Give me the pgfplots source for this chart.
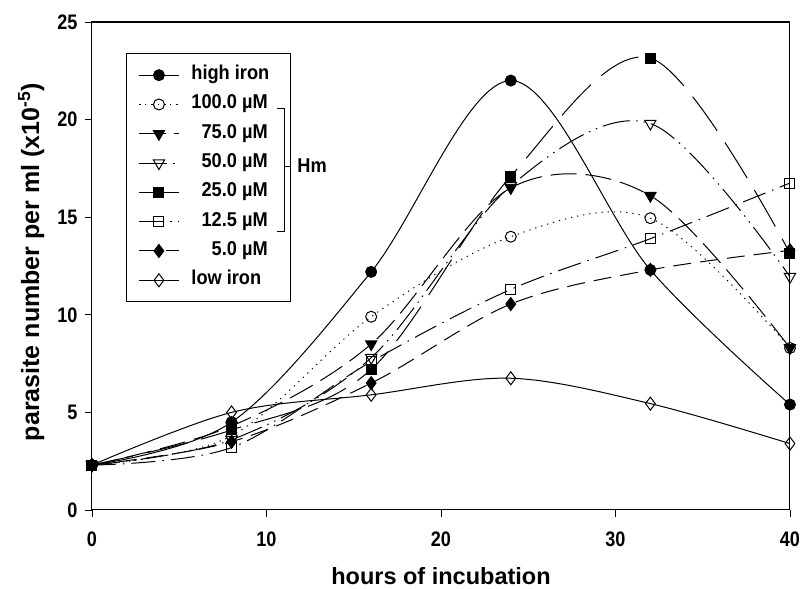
\documentclass[border=0pt]{standalone}
\usepackage{fontspec}
\setmainfont{Liberation Sans}
\newfontfamily\tickfont{Liberation Sans}[FakeStretch=0.86]
\newfontfamily\legfont{Liberation Sans}[FakeStretch=0.91]
\usepackage{pgfplots}
\pgfplotsset{compat=1.18}
\begin{document}
\begin{tikzpicture}
\begin{axis}[
  scale only axis,
  width=698pt, height=488pt,
  xmin=0, xmax=40, ymin=0, ymax=25,
  xtick={0,10,20,30,40}, ytick={0,5,10,15,20,25},
  tick align=outside, major tick length=7pt,
  xtick pos=left, ytick pos=left,
  axis line style={line width=1pt, black},
  tick style={line width=0.9pt, black},
  /pgf/number format/assume math mode=true,
  ticklabel style={font=\tickfont\bfseries\fontsize{21}{21}\selectfont},
  xticklabel style={yshift=-11pt},
  yticklabel style={xshift=-4pt},
  xlabel={hours of incubation},
  ylabel={parasite number per ml (x10\textsuperscript{-5})},
  xlabel style={font=\bfseries\fontsize{23.5}{23.5}\selectfont, at={(0.5,-0.136)}, anchor=center},
  ylabel style={font=\bfseries\fontsize{25}{25}\selectfont, at={(-0.087,0.508)}, anchor=center},
  every axis plot/.append style={line width=1pt, black, smooth, tension=0.55},
  legend cell align=left,
  legend style={at={(0.0487,0.936)}, anchor=north west, draw=black, line width=0.9pt,
    font=\legfont\bfseries\fontsize{20}{20}\selectfont, row sep=10.3pt,
    inner xsep=12pt, inner ysep=12pt,
    nodes={inner xsep=9pt, inner ysep=0pt, text height=14pt, text depth=5pt}},
  legend image code/.code={\draw[mark repeat=2, mark phase=2] plot coordinates {(0pt,0pt) (20pt,0pt) (40pt,0pt)}; \path (43pt,0pt);},
  clip=false,
]
\addplot[solid, mark=*, mark size=5.5pt, mark options={solid, fill=black}]
  coordinates {(0,2.3)(8,4.5)(16,12.2)(24,22.0)(32,12.3)(40,5.4)};
\addlegendentry{high iron\hspace{11pt}}
\addplot[dash pattern=on 1.2pt off 5pt, mark=o, mark size=5.5pt, mark options={solid, fill=white}]
  coordinates {(0,2.3)(8,3.8)(16,9.9)(24,14.0)(32,14.95)(40,8.3)};
\addlegendentry{100.0 µM}
\addplot[dash pattern=on 26pt off 9pt, mark=triangle*, mark size=6.5pt, mark options={solid, fill=black, rotate=180}]
  coordinates {(0,2.3)(8,4.3)(16,8.5)(24,16.5)(32,16.1)(40,8.3)};
\addlegendentry{\phantom{0}75.0 µM}
\addplot[dash pattern=on 28pt off 6pt on 1.5pt off 6pt on 1.5pt off 6pt, mark=triangle, mark size=6.5pt, mark options={solid, fill=white, rotate=180}]
  coordinates {(0,2.3)(8,3.6)(16,7.8)(24,16.6)(32,19.8)(40,11.95)};
\addlegendentry{\phantom{0}50.0 µM}
\addplot[dash pattern=on 42pt off 14pt, mark=square*, mark size=5pt, mark options={solid, fill=black}]
  coordinates {(0,2.3)(8,4.1)(16,7.2)(24,17.1)(32,23.15)(40,13.15)};
\addlegendentry{\phantom{0}25.0 µM}
\addplot[dash pattern=on 24pt off 7pt on 1.5pt off 7pt, mark=square, mark size=5pt, mark options={solid, fill=white}]
  coordinates {(0,2.3)(8,3.2)(16,7.6)(24,11.3)(32,13.9)(40,16.75)};
\addlegendentry{\phantom{0}12.5 µM}
\addplot[dash pattern=on 18pt off 9pt, mark=diamond*, mark size=6.5pt, mark options={solid, fill=black}]
  coordinates {(0,2.3)(8,3.5)(16,6.5)(24,10.55)(32,12.3)(40,13.3)};
\addlegendentry{\phantom{00}5.0 µM}
\addplot[solid, mark=diamond, mark size=6.5pt, mark options={solid, fill=white}]
  coordinates {(0,2.3)(8,5.0)(16,5.9)(24,6.75)(32,5.45)(40,3.4)};
\addlegendentry{low iron}
\coordinate (F1) at (rel axis cs:0,0);
\coordinate (F2) at (rel axis cs:1,1);
\coordinate (B1) at (axis cs:10.6,20.59);
\coordinate (B2) at (axis cs:11.0,20.59);
\coordinate (B3) at (axis cs:11.0,14.29);
\coordinate (B4) at (axis cs:10.6,14.29);
\coordinate (B5) at (axis cs:11.0,17.62);
\coordinate (B6) at (axis cs:11.35,17.62);
\coordinate (BL) at (rel axis cs:-0.1318,-0.1619);
\coordinate (TR) at (rel axis cs:1.0158,1.0451);
\end{axis}
\draw[black, line width=1pt] (F1) rectangle (F2);
\draw[black, line width=0.8pt] (B1) -- (B2) -- (B3) -- (B4);
\draw[black, line width=0.8pt] (B5) -- (B6)
  node[anchor=west, inner sep=0pt, xshift=7pt, font=\legfont\bfseries\fontsize{20}{20}\selectfont] {Hm};
\pgfresetboundingbox
\path[use as bounding box] (BL) rectangle (TR);
\end{tikzpicture}
\end{document}
